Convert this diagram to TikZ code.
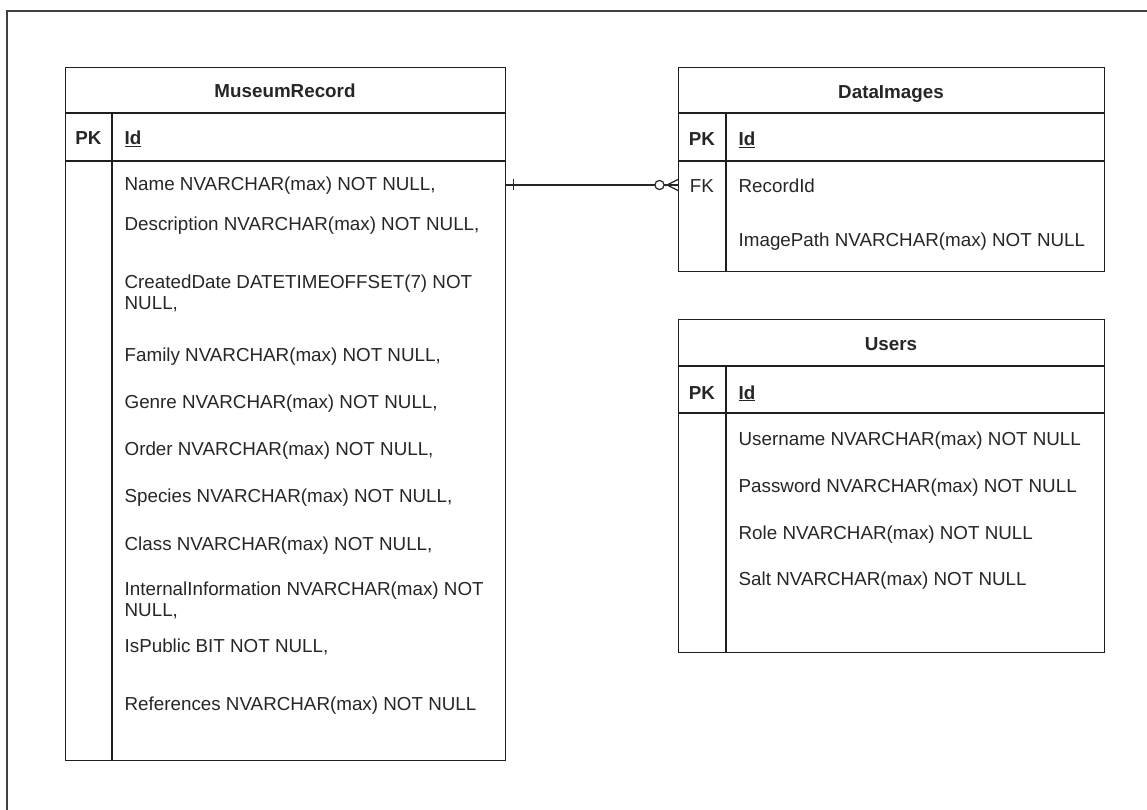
\documentclass[tikz,border=0pt]{standalone}
\usepackage{fontspec}
\setmainfont{Liberation Sans}
\begin{document}
\begin{tikzpicture}[x=1pt,y=-1pt,
  line width=1.3pt,
  tbl/.style={draw=black!88, line width=1.3pt, rectangle, inner sep=0pt, anchor=north west},
  rule/.style={draw=black!88, line width=1.3pt},
  frame/.style={draw=black!75, line width=1.4pt},
  ttl/.style={anchor=base, inner sep=0pt, font=\fontsize{18.8}{21}\selectfont\bfseries, text=black!85},
  key/.style={anchor=base, inner sep=0pt, font=\fontsize{18.8}{21}\selectfont\bfseries, text=black!85},
  fkey/.style={anchor=base, inner sep=0pt, font=\fontsize{18.8}{21}\selectfont, text=black!85},
  pkname/.style={anchor=base west, inner sep=0pt, font=\fontsize{18.8}{21}\selectfont\bfseries, text=black!85},
  fld/.style={anchor=base west, inner sep=0pt, align=left, font=\fontsize{18.8}{21}\selectfont, text=black!85},
  rel/.style={draw=black!85, line width=1.2pt}]

\useasboundingbox (0,0) rectangle (1147,810);

% page frame
\draw[frame] (7,810) -- (7,11) -- (1147,11);

% ---------------- MuseumRecord ----------------
\node[tbl, minimum width=440pt, minimum height=693pt] (mr) at (65,67) {};
\draw[rule] (mr.west |- 0,113) -- (mr.east |- 0,113);
\draw[rule] (mr.west |- 0,161) -- (mr.east |- 0,161);
\draw[rule] (112,113) -- (mr.south -| 112,0);
\node[ttl] (mrt) at (285,98) {MuseumRecord};
\node[key] (mrpk) at (88.5,145) {PK};
\node[pkname] (mrid) at (124,145) {\underline{Id}};
\node[fld] (mrname) at (124,191) {Name NVARCHAR(max) NOT NULL,};
\node[fld] (mrdesc) at (124,230) {Description NVARCHAR(max) NOT NULL,};
% two-line entries: the base anchor sits on the last line
\node[fld] (mrdate) at (124,309) {CreatedDate DATETIMEOFFSET(7) NOT\\NULL,};
\node[fld] (mrfam) at (124,361) {Family NVARCHAR(max) NOT NULL,};
\node[fld] (mrgen) at (124,408) {Genre NVARCHAR(max) NOT NULL,};
\node[fld] (mrord) at (124,455) {Order NVARCHAR(max) NOT NULL,};
\node[fld] (mrspe) at (124,502) {Species NVARCHAR(max) NOT NULL,};
\node[fld] (mrcls) at (124,550) {Class NVARCHAR(max) NOT NULL,};
\node[fld] (mrint) at (124,616) {InternalInformation NVARCHAR(max) NOT\\NULL,};
\node[fld] (mrpub) at (124,652) {IsPublic BIT NOT NULL,};
\node[fld] (mrref) at (124,710) {References NVARCHAR(max) NOT NULL};

% ---------------- DataImages ----------------
\node[tbl, minimum width=426pt, minimum height=204pt] (di) at (678,67) {};
\draw[rule] (di.west |- 0,113) -- (di.east |- 0,113);
\draw[rule] (di.west |- 0,161) -- (di.east |- 0,161);
\draw[rule] (726,113) -- (di.south -| 726,0);
\node[ttl] (dit) at (891,99) {DataImages};
\node[key] (dipk) at (702,146) {PK};
\node[pkname] (diid) at (738,146) {\underline{Id}};
\node[fkey] (difk) at (702,193) {FK};
\node[fld] (direc) at (738,193) {RecordId};
\node[fld] (diimg) at (738,247) {ImagePath NVARCHAR(max) NOT NULL};

% ---------------- Users ----------------
\node[tbl, minimum width=426pt, minimum height=333pt] (us) at (678,319) {};
\draw[rule] (us.west |- 0,366) -- (us.east |- 0,366);
\draw[rule] (us.west |- 0,413) -- (us.east |- 0,413);
\draw[rule] (726,366) -- (us.south -| 726,0);
\node[ttl] (ust) at (891,350) {Users};
\node[key] (uspk) at (702,399) {PK};
\node[pkname] (usid) at (738,399) {\underline{Id}};
\node[fld] (usname) at (738,445) {Username NVARCHAR(max) NOT NULL};
\node[fld] (uspass) at (738,492) {Password NVARCHAR(max) NOT NULL};
\node[fld] (usrole) at (738,539) {Role NVARCHAR(max) NOT NULL};
\node[fld] (ussalt) at (738,585) {Salt NVARCHAR(max) NOT NULL};

% ---------------- relation: one MuseumRecord to many DataImages ----------------
\coordinate (r1) at (mr.east |- 0,185);
\coordinate (r2) at (di.west |- 0,185);
\draw[rel] (r1) -- (r2);
% "one" bar
\draw[rel] ([shift={(7pt,-5.5pt)}]r1) -- ([shift={(7pt,5.5pt)}]r1);
% "zero or many": circle and crow's foot
\draw[rel, fill=white] ([xshift=-18.5pt]r2) circle (4.6pt);
\draw[rel] ([xshift=-11pt]r2) -- ([yshift=-5.5pt]r2);
\draw[rel] ([xshift=-11pt]r2) -- ([yshift=5.5pt]r2);
\end{tikzpicture}
\end{document}
